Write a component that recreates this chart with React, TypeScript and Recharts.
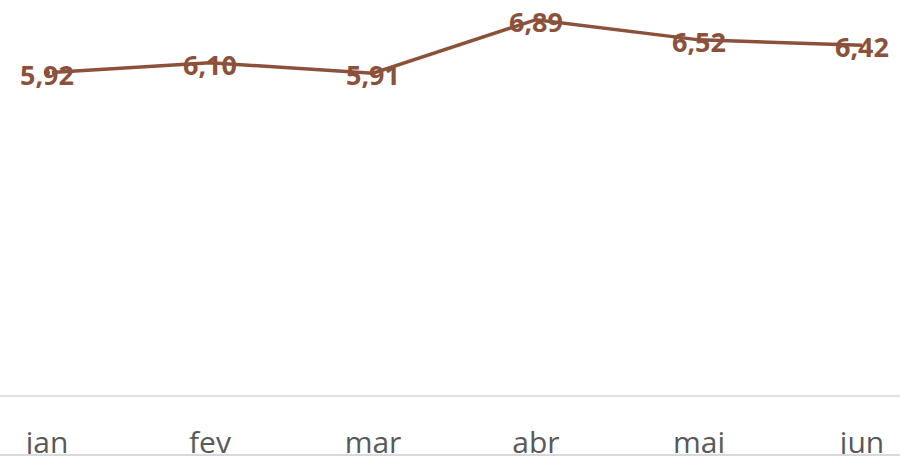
import React from "react";
import { LineChart, Line, XAxis, YAxis, LabelList } from "recharts";

const months = ["jan", "fev", "mar", "abr", "mai", "jun"];
const values = [5.92, 6.1, 5.91, 6.89, 6.52, 6.42];

const data = months.map((m, i) => ({ month: m, value: values[i] }));

const LINE_COLOR = "#8C513A";

const fmt = (v: number) => v.toFixed(2).replace(".", ",");

const Tick = (props: any) => {
  const { x, y, payload } = props;
  return (
    <text
      x={x}
      y={y + 57}
      textAnchor="middle"
      fill="#595959"
      fontFamily="'Open Sans', sans-serif"
      fontSize={30}
    >
      {payload.value}
    </text>
  );
};

const ValueLabel = (props: any) => {
  const { x, y, value } = props;
  return (
    <text
      x={x}
      y={y + 12}
      textAnchor="middle"
      fill={LINE_COLOR}
      fontFamily="'Open Sans', sans-serif"
      fontWeight="bold"
      fontSize={27}
    >
      {fmt(value)}
    </text>
  );
};

export default function App() {
  return (
    <div
      style={{
        position: "absolute",
        top: 0,
        left: 0,
        width: 900,
        height: 458,
        background: "#ffffff",
      }}
    >
      <div style={{ position: "absolute", top: 0, left: 0, width: 900, height: 454, overflow: "hidden" }}>
        <LineChart
          width={900}
          height={458}
          data={data}
          margin={{ top: 0, right: 0, bottom: 0, left: 0 }}
        >
          <XAxis
            dataKey="month"
            tickLine={false}
            tickSize={0}
            tickMargin={0}
            height={62}
            padding={{ left: 47, right: 38 }}
            axisLine={{ stroke: "#d9d9d9", strokeWidth: 1.5 }}
            tick={<Tick />}
            interval={0}
          />
          <YAxis hide domain={[0, 7.25]} />
          <Line
            type="linear"
            dataKey="value"
            stroke={LINE_COLOR}
            strokeWidth={3.5}
            dot={false}
            isAnimationActive={false}
          >
            <LabelList dataKey="value" content={<ValueLabel />} />
          </Line>
        </LineChart>
      </div>
      <div
        style={{
          position: "absolute",
          top: 454,
          left: 0,
          width: 900,
          height: 1.5,
          background: "#d9d9d9",
        }}
      />
    </div>
  );
}
